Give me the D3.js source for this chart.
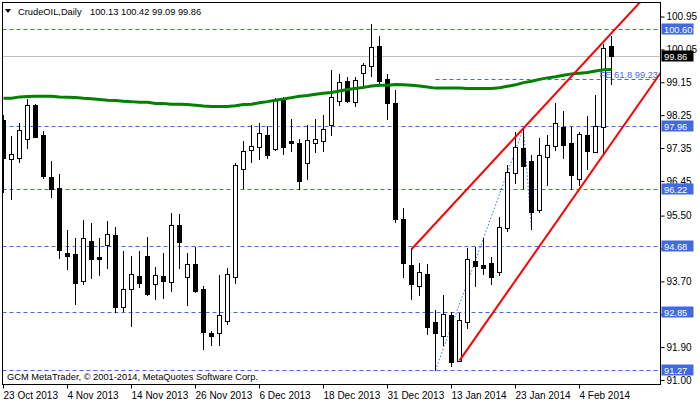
<!DOCTYPE html>
<html>
<head>
<meta charset="utf-8">
<script src="https://d3js.org/d3.v7.min.js"></script>
<style>
body { margin: 0; background: #fff; }
svg { display: block; font-family: "Liberation Sans", Arial, sans-serif; font-size: 9.3px; }
</style>
</head>
<body>
<svg width="700" height="402"></svg>
<script>
// daily bars, 23 Oct 2013 .. 10 Feb 2014
const dates = [
  "2013-10-23","2013-10-24","2013-10-25","2013-10-28","2013-10-29","2013-10-30","2013-10-31","2013-11-01",
  "2013-11-04","2013-11-05","2013-11-06","2013-11-07","2013-11-08","2013-11-11","2013-11-12","2013-11-13",
  "2013-11-14","2013-11-15","2013-11-18","2013-11-19","2013-11-20","2013-11-21","2013-11-22","2013-11-25",
  "2013-11-26","2013-11-27","2013-11-28","2013-11-29","2013-12-02","2013-12-03","2013-12-04","2013-12-05",
  "2013-12-06","2013-12-09","2013-12-10","2013-12-11","2013-12-12","2013-12-13","2013-12-16","2013-12-17",
  "2013-12-18","2013-12-19","2013-12-20","2013-12-23","2013-12-24","2013-12-26","2013-12-27","2013-12-30",
  "2013-12-31","2014-01-02","2014-01-03","2014-01-06","2014-01-07","2014-01-08","2014-01-09","2014-01-10",
  "2014-01-13","2014-01-14","2014-01-15","2014-01-16","2014-01-17","2014-01-20","2014-01-21","2014-01-22",
  "2014-01-23","2014-01-24","2014-01-27","2014-01-28","2014-01-29","2014-01-30","2014-01-31","2014-02-03",
  "2014-02-04","2014-02-05","2014-02-06","2014-02-07","2014-02-10"
];
const open = [
  98.11,97.06,97.08,97.59,98.53,97.71,96.56,96.25,94.48,94.45,93.72,94.80,94.36,94.69,94.97,93.00,
  93.48,93.84,94.39,93.62,93.84,93.69,95.24,93.83,94.17,93.48,92.28,92.28,92.62,93.83,96.78,97.29,
  97.37,97.71,97.33,98.66,97.54,97.48,96.93,97.48,97.53,97.98,98.64,99.18,98.60,99.40,99.59,100.14,
  99.23,98.57,95.42,94.15,93.57,93.89,92.58,92.21,92.78,91.53,92.59,94.26,94.15,94.19,93.96,95.17,
  96.66,97.34,96.99,95.65,97.10,97.41,97.92,97.48,96.51,97.71,97.25,97.93,100.13
];
const high = [
  98.25,97.68,98.04,98.68,98.55,97.82,96.99,96.63,95.10,94.88,95.38,95.29,94.88,95.35,95.19,94.53,
  94.39,94.53,94.92,94.08,94.47,95.58,95.54,94.47,94.65,93.57,92.35,93.87,94.06,96.95,97.54,97.97,
  98.03,97.95,98.73,98.75,98.14,97.60,97.97,98.14,98.25,99.49,99.38,99.29,99.30,99.67,100.75,100.42,
  99.38,98.94,95.71,94.58,94.19,94.17,92.91,93.32,92.87,92.84,94.62,94.63,94.90,94.36,95.45,96.88,
  97.80,97.89,97.16,97.63,97.71,98.59,98.36,97.93,97.80,98.23,98.80,100.19,100.42
];
const low = [
  96.15,95.95,96.97,97.36,97.65,96.54,96.02,94.35,94.04,93.07,93.62,93.78,93.87,94.07,92.85,92.89,
  92.48,93.55,93.33,93.21,93.24,93.44,94.06,93.05,93.41,91.84,91.95,91.97,92.53,93.65,96.26,96.97,
  97.04,97.08,97.30,97.19,97.28,96.22,96.49,97.25,97.28,97.72,98.52,98.62,98.51,98.98,99.32,99.10,
  98.14,95.33,93.83,93.21,93.34,92.25,91.27,91.96,91.39,91.53,92.41,93.57,93.90,93.63,93.87,95.09,
  96.38,96.25,95.14,95.59,96.34,97.30,97.08,96.23,96.34,96.77,97.25,97.15,99.09
];
const close = [
  97.09,97.18,97.84,98.53,97.66,96.58,96.22,94.56,94.40,93.66,94.88,94.31,94.31,95.00,93.00,93.48,
  93.89,93.66,93.35,93.87,93.72,95.24,94.78,94.17,93.44,92.32,92.21,92.78,93.89,96.88,97.27,97.40,
  97.75,97.16,98.66,97.39,97.49,96.45,97.57,97.59,97.86,98.74,99.15,98.64,99.20,99.61,100.11,99.19,
  98.59,95.40,94.19,93.62,93.95,92.46,92.28,92.80,91.50,92.64,94.30,94.13,94.07,93.83,95.19,96.68,
  97.37,96.87,95.61,97.15,97.42,98.03,97.44,96.62,97.73,97.28,97.95,100.08,99.86
];
// moving average (green)
const ma = [
  98.71,98.71,98.75,98.76,98.77,98.77,98.77,98.75,98.74,98.73,98.71,98.70,98.68,98.66,98.65,98.63,
  98.62,98.60,98.60,98.57,98.57,98.55,98.55,98.54,98.52,98.50,98.49,98.49,98.49,98.51,98.54,98.55,
  98.59,98.62,98.66,98.69,98.73,98.77,98.79,98.82,98.85,98.87,98.91,98.95,98.98,99.01,99.05,99.07,
  99.07,99.09,99.08,99.07,99.05,99.02,98.99,98.99,98.99,98.99,98.98,98.98,98.98,98.98,99.00,99.04,
  99.08,99.14,99.18,99.23,99.27,99.30,99.34,99.38,99.40,99.42,99.46,99.49,99.50
];
const levels = [100.60, 97.96, 96.22, 94.68, 92.85, 91.27];
const bid = 99.86;
const priceTicks = [100.95, 100.05, 99.15, 98.25, 97.35, 96.45, 95.50, 94.60, 93.70, 92.80, 91.90, 91.00];
const dateTicks = ["2013-10-23","2013-11-04","2013-11-14","2013-11-26","2013-12-06","2013-12-18",
                   "2013-12-31","2014-01-13","2014-01-23","2014-02-04"];
const upperTrend = [["2014-01-06", 94.58], ["2014-02-07", 100.26]];
const lowerTrend = [["2014-01-14", 91.53], ["2014-02-07", 97.17]];
const fePoints = [["2014-01-09", 91.27], ["2014-01-24", 97.89], ["2014-01-27", 95.14]];
const feLevel = 99.23;
const header = "100.13 100.42 99.09 99.86";

const pL = 2.5, pR = 660.5, pT = 2.5, pB = 384.5;
const blue = "#4169e1";

const svg = d3.select("svg");
const x = d3.scalePoint().domain(dates).range([3.5, 611.5]);
const y = d3.scaleLinear().domain([90.89, 101.32]).range([384, 3]);
const py = v => Math.round(y(v)) + 0.5;

svg.append("defs").append("clipPath").attr("id", "plot")
  .append("rect").attr("x", pL).attr("y", pT).attr("width", pR - pL).attr("height", pB - pT);

const plot = svg.append("g").attr("clip-path", "url(#plot)");

// horizontal levels
plot.selectAll(".lvl").data(levels).enter().append("line")
  .attr("x1", pL).attr("x2", pR)
  .attr("y1", d => py(d)).attr("y2", d => py(d))
  .attr("stroke", blue).attr("stroke-dasharray", "4,3");

// bid line
plot.append("line").attr("x1", pL).attr("x2", pR)
  .attr("y1", py(bid)).attr("y2", py(bid)).attr("stroke", "#c0c0c0");

// FE drawing
plot.append("path")
  .attr("d", d3.line().x(d => x(d[0])).y(d => y(d[1]))(fePoints))
  .attr("fill", "none").attr("stroke", blue).attr("stroke-dasharray", "1.5,2");
plot.append("line")
  .attr("x1", x(fePoints[0][0])).attr("x2", pR)
  .attr("y1", py(feLevel)).attr("y2", py(feLevel))
  .attr("stroke", blue).attr("stroke-dasharray", "4,3");

// candles
const idx = d3.range(dates.length);
const candle = plot.selectAll(".c").data(idx).enter().append("g");
candle.append("line")
  .attr("x1", i => x(dates[i])).attr("x2", i => x(dates[i]))
  .attr("y1", i => Math.round(y(high[i]))).attr("y2", i => Math.round(y(low[i])) + 1)
  .attr("stroke", "#000");
candle.append("rect")
  .attr("x", i => x(dates[i]) - 2)
  .attr("y", i => py(Math.max(open[i], close[i])))
  .attr("width", 4)
  .attr("height", i => Math.max(1, py(Math.min(open[i], close[i])) - py(Math.max(open[i], close[i]))))
  .attr("fill", i => close[i] < open[i] ? "#000" : "#fff")
  .attr("stroke", "#000");

// moving average
plot.append("path")
  .attr("d", d3.line().x((d, i) => x(dates[i])).y(d => y(d))(ma))
  .attr("fill", "none").attr("stroke", "#008000").attr("stroke-width", 3);

// trend rays
function ray(pts) {
  const x1 = x(pts[0][0]), y1 = y(pts[0][1]), x2 = x(pts[1][0]), y2 = y(pts[1][1]);
  const k = (y2 - y1) / (x2 - x1);
  plot.append("line").attr("x1", x1).attr("y1", y1)
    .attr("x2", pR).attr("y2", y1 + k * (pR - x1))
    .attr("stroke", "#ff0000").attr("stroke-width", 2);
}
ray(upperTrend);
ray(lowerTrend);

// FE label
svg.append("text").attr("x", 658).attr("y", py(feLevel) - 2)
  .attr("text-anchor", "end").attr("fill", blue).text("FE 61.8 " + feLevel.toFixed(2));

// frame
svg.append("rect").attr("x", pL).attr("y", pT).attr("width", pR - pL).attr("height", pB - pT)
  .attr("fill", "none").attr("stroke", "#000");

// right axis
const yAxis = svg.append("g").attr("transform", `translate(${pR},0)`)
  .call(d3.axisRight(y).tickValues(priceTicks).tickSize(4).tickPadding(2).tickFormat(d3.format(".2f")));
yAxis.select(".domain").remove();
yAxis.selectAll("text").attr("font-family", null).attr("font-size", null).attr("fill", "#000");
// labels fully covered by a level tag are not shown
yAxis.selectAll(".tick").filter(d => levels.some(l => Math.abs(l - d) < 0.12))
  .select("text").remove();

// level tags
function tag(v, color) {
  svg.append("rect").attr("x", 661.5).attr("y", py(v) - 6).attr("width", 32).attr("height", 11)
    .attr("fill", color);
  svg.append("text").attr("x", 664).attr("y", py(v)).attr("dy", "0.35em")
    .attr("fill", "#fff").text(v.toFixed(2));
}
levels.forEach(v => tag(v, blue));
tag(bid, "#000");

// bottom axis
const fmt = d3.timeFormat("%-d %b %Y"), parse = d3.timeParse("%Y-%m-%d");
const xAxis = svg.append("g").attr("transform", `translate(0,${pB})`)
  .call(d3.axisBottom(x).tickValues(dateTicks).tickSize(4).tickPadding(3).offset(0)
    .tickFormat(d => fmt(parse(d))));
xAxis.select(".domain").remove();
xAxis.selectAll("text").attr("font-family", null).attr("font-size", null)
  .attr("fill", "#000").attr("text-anchor", "start").attr("x", 0);

// header
svg.append("path").attr("d", "M5,9 L11,9 L8,13 Z").attr("fill", "#000");
svg.append("text").attr("x", 18).attr("y", 14.5).text("CrudeOIL,Daily");
svg.append("text").attr("x", 90).attr("y", 14.5).text(header);

// copyright
svg.append("text").attr("x", 7).attr("y", 380)
  .text("GCM MetaTrader, \u00a9 2001-2014, MetaQuotes Software Corp.");
</script>
</body>
</html>
